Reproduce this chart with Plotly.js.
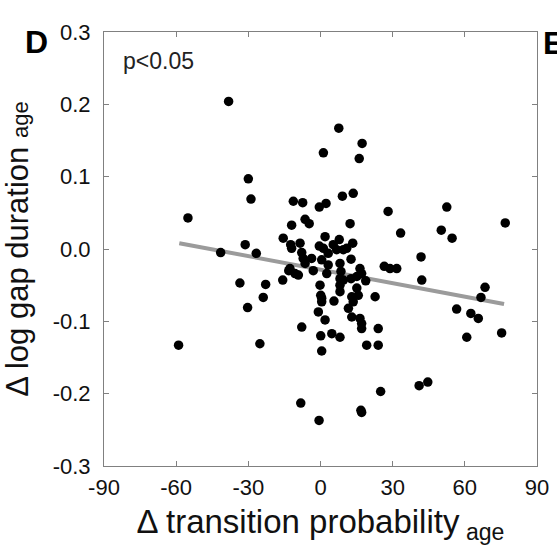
<!DOCTYPE html>
<html>
<head>
<meta charset="utf-8">
<script src="https://cdn.plot.ly/plotly-3.0.1.min.js"></script>
<style>html,body{margin:0;padding:0;background:#fff;}#chart{width:557px;height:560px;}</style>
</head>
<body>
<div id="chart"></div>
<script>
// Δ transition probability (age) for each bird / pair
const xVals = [
  -38.2, -30.0, -28.9, -55.1, -11.3, -7.4, -0.5, 2.3, 9.1, 13.6,
  7.6, 1.2, 17.3, 16.1, 28.1, 52.5, 76.8, 33.3, 50.2, 54.7,
  -12.0, -6.4, -4.7, 12.3, -15.5, -12.4, -8.5, -0.5, 1.9, 7.8,
  5.3, 13.4, -31.3, -41.5, -26.7, -7.8, -7.2, -3.7, -6.4, 1.2,
  3.2, 0.5, 3.2, 6.7, 9.5, 10.9, 12.7, 8.1, -12.7, -10.6,
  -13.2, -9.2, -3.0, 2.6, 8.5, 8.1, 9.5, 12.7, 15.1, 16.4,
  17.1, 18.8, 26.5, 28.9, 31.7, 41.8, 42.1, 68.4, 66.7, 75.3,
  56.6, 62.5, 65.6, 60.8, -33.5, -22.8, -15.7, -23.8, -30.3, -7.8,
  -59.0, -25.2, -8.2, -0.6, -0.2, 0.1, 0.5, 0.5, 5.6, 8.1,
  8.1, 15.1, 15.7, 13.0, 13.6, 11.6, 13.0, 16.4, 17.1, 17.1,
  22.7, -0.9, 1.9, 0.1, 4.7, 8.1, 0.5, 19.2, 24.0, 24.0,
  16.8, 17.1, 25.0, 41.0, 44.6, -12.0
];
// Δ log gap duration (age)
const yVals = [
  0.204, 0.097, 0.069, 0.043, 0.066, 0.064, 0.058, 0.063, 0.073, 0.077,
  0.167, 0.133, 0.146, 0.125, 0.052, 0.058, 0.036, 0.022, 0.026, 0.015,
  0.033, 0.041, 0.035, 0.035, 0.015, 0.006, 0.008, 0.004, 0.017, 0.013,
  0.006, 0.008, 0.006, -0.005, -0.006, -0.005, -0.013, -0.013, -0.020, 0.001,
  -0.006, -0.015, -0.022, -0.001, -0.001, 0.001, -0.014, -0.020, -0.027, -0.034,
  -0.030, -0.036, -0.030, -0.034, -0.031, -0.041, -0.043, -0.041, -0.038, -0.027,
  -0.034, -0.044, -0.024, -0.027, -0.027, -0.011, -0.043, -0.053, -0.067, -0.116,
  -0.083, -0.089, -0.096, -0.122, -0.047, -0.049, -0.043, -0.067, -0.081, -0.108,
  -0.133, -0.131, -0.213, -0.237, -0.050, -0.064, -0.068, -0.073, -0.072, -0.050,
  -0.059, -0.054, -0.064, -0.066, -0.073, -0.082, -0.094, -0.096, -0.103, -0.110,
  -0.066, -0.087, -0.098, -0.120, -0.117, -0.122, -0.141, -0.133, -0.133, -0.110,
  -0.223, -0.226, -0.197, -0.189, -0.184, 0.001
];
// regression line end points
const fitX = [-58.7, 76.3];
const fitY = [0.008, -0.076];

const xTickVals = [-90, -60, -30, 0, 30, 60, 90];
const xTickText = ['-90', '-60', '-30', '0', '30', '60', '90'];
const yTickVals = [-0.3, -0.2, -0.1, 0, 0.1, 0.2, 0.3];
const yTickText = ['-0.3', '-0.2', '-0.1', '0.0', '0.1', '0.2', '0.3'];

const FONT = 'Liberation Sans, Arial, Helvetica, sans-serif';
const AXC = '#808080';

const traces = [
  {
    x: fitX, y: fitY, type: 'scatter', mode: 'lines',
    line: {color: '#9b9b9b', width: 4}, hoverinfo: 'skip', showlegend: false
  },
  {
    x: xVals, y: yVals, type: 'scatter', mode: 'markers',
    marker: {color: '#000000', size: 9.5, line: {width: 0}}, showlegend: false
  }
];

const axisCommon = {
  showline: true, linecolor: AXC, linewidth: 1, mirror: 'ticks',
  ticks: 'inside', ticklen: 5, tickwidth: 1, tickcolor: AXC,
  showgrid: false, zeroline: false, tickmode: 'array',
  tickfont: {family: FONT, size: 22, color: '#111'}
};

const layout = {
  width: 557, height: 560,
  margin: {l: 104, r: 20, t: 32, b: 94},
  paper_bgcolor: '#fff', plot_bgcolor: '#fff',
  font: {family: FONT, color: '#111'},
  xaxis: Object.assign({}, axisCommon, {
    range: [-90, 90], tickvals: xTickVals, ticktext: xTickText,
    ticklabelstandoff: 2,
    title: {text: 'Δ transition probability<sub> age</sub>', font: {family: FONT, size: 33, color: '#111'}, standoff: 10}
  }),
  yaxis: Object.assign({}, axisCommon, {
    range: [-0.3, 0.3], tickvals: yTickVals, ticktext: yTickText,
    ticklabelstandoff: 8,
    title: {text: 'Δ log gap duration <span style="font-size:22px">age</span>', font: {family: FONT, size: 31, color: '#111'}, standoff: 16}
  }),
  annotations: [
    {text: 'p<0.05', xref: 'paper', yref: 'paper', x: 0.040, y: 0.933,
     xanchor: 'left', yanchor: 'middle', showarrow: false,
     font: {family: FONT, size: 23, color: '#222'}},
    {text: '<b>D</b>', xref: 'paper', yref: 'paper', x: -0.156, y: 0.978,
     xanchor: 'center', yanchor: 'middle', showarrow: false,
     font: {family: FONT, size: 32, color: '#000'}},
    {text: '<b>E</b>', xref: 'paper', yref: 'paper', x: 1.010, y: 0.975,
     xanchor: 'left', yanchor: 'middle', showarrow: false,
     font: {family: FONT, size: 32, color: '#000'}}
  ]
};

Plotly.newPlot('chart', traces, layout, {staticPlot: true, displayModeBar: false});
</script>
</body>
</html>
